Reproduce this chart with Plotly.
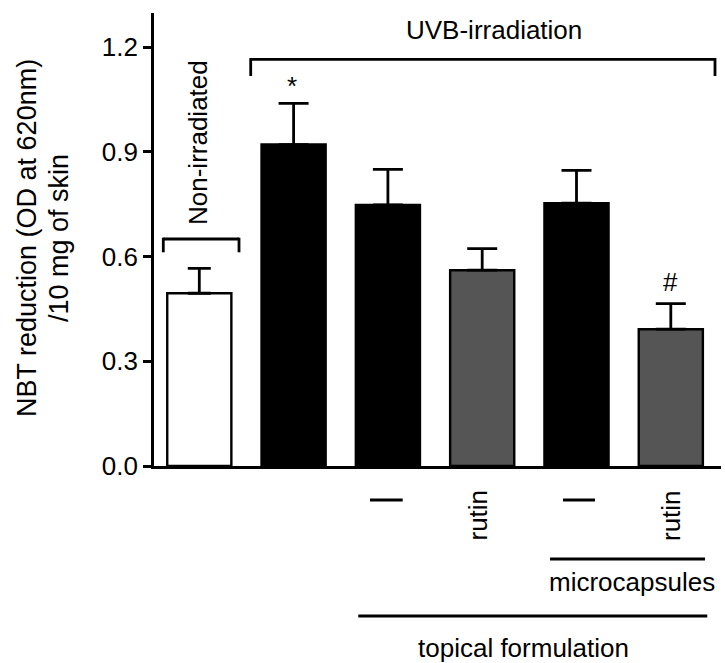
import plotly.graph_objects as go

# ---- data ----
groups = ["Non-irradiated", "UVB", "UVB topical", "UVB topical rutin", "UVB microcapsules", "UVB microcapsules rutin"]
nbt_mean = [0.495, 0.921, 0.748, 0.561, 0.753, 0.392]
nbt_sem = [0.071, 0.118, 0.102, 0.062, 0.094, 0.073]
bar_colors = ["#ffffff", "#000000", "#000000", "#555555", "#000000", "#555555"]
y_ticks = [0.0, 0.3, 0.6, 0.9, 1.2]
y_tick_labels = ["0.0", "0.3", "0.6", "0.9", "1.2"]

FONT = "Liberation Sans, Arial, Helvetica, sans-serif"
FS = 26
W, H = 725, 663
L, R, T, B = 154, 721, 13, 466

def px_x(px):
    return (px - L) / (R - L)

def px_y(py):
    return (B - py) / (B - T)

xpos = list(range(len(groups)))

fig = go.Figure()
# first bar (narrower caps)
fig.add_trace(go.Bar(
    x=xpos[:1], y=nbt_mean[:1], width=0.68,
    marker=dict(color=bar_colors[:1], line=dict(color="black", width=2.4)),
    error_y=dict(type="data", symmetric=False, array=nbt_sem[:1], arrayminus=[0],
                 color="black", thickness=2.8, width=11.5),
    showlegend=False, hoverinfo="skip"))
fig.add_trace(go.Bar(
    x=xpos[1:], y=nbt_mean[1:], width=0.68,
    marker=dict(color=bar_colors[1:], line=dict(color="black", width=2.4)),
    error_y=dict(type="data", symmetric=False, array=nbt_sem[1:], arrayminus=[0] * 5,
                 color="black", thickness=2.8, width=15),
    showlegend=False, hoverinfo="skip"))

shapes = []
annotations = []

def line(x0, y0, x1, y1, w=2.8):
    shapes.append(dict(type="line", xref="paper", yref="paper",
                       x0=px_x(x0), y0=px_y(y0), x1=px_x(x1), y1=px_y(y1),
                       line=dict(color="black", width=w)))

def text(t, x, y, angle=0, size=FS):
    annotations.append(dict(text=t, xref="paper", yref="paper", x=px_x(x), y=px_y(y),
                            xanchor="center", yanchor="middle", showarrow=False,
                            textangle=angle, font=dict(family=FONT, size=size, color="black")))

# Non-irradiated bracket
line(163.3, 239, 239, 239)
line(163.3, 237.7, 163.3, 252.3)
line(239, 237.7, 239, 252.3)
text("Non-irradiated", 197.5, 142.5, angle=-90)

# UVB bracket
line(250.7, 59.3, 715, 59.3)
line(250.7, 58, 250.7, 76)
line(715, 58, 715, 76)
text("UVB-irradiation", 494, 30)

# significance marks
text("*", 291.7, 86)
text("#", 670.7, 281.7)

# below-axis labels
line(370, 500, 402.7, 500, w=3)
line(563, 500, 595, 500, w=3)
text("rutin", 477, 515.5, angle=-90)
text("rutin", 670.5, 515.5, angle=-90)
line(550, 559, 705, 559)
text("microcapsules", 631.5, 582)
line(358.3, 616, 707.3, 616)
text("topical formulation", 523, 648)

# y-axis title (two lines)
text("NBT reduction (OD at 620nm)", 27, 238, angle=-90, size=27)
text("/10 mg of skin", 59, 238, angle=-90, size=27)

px_per_x = 94.3
x_left = (L - 199.3) / px_per_x
x_right = (R - 199.3) / px_per_x
y_top = (B - T) / 349.0

fig.update_layout(
    width=W, height=H,
    margin=dict(l=L, r=W - R, t=T, b=H - B, pad=0),
    paper_bgcolor="white", plot_bgcolor="white",
    barmode="overlay",
    shapes=shapes, annotations=annotations,
    font=dict(family=FONT, size=FS, color="black"),
    xaxis=dict(range=[x_left, x_right], showticklabels=False, ticks="",
               showline=True, linecolor="black", linewidth=2.8, showgrid=False,
               zeroline=False, fixedrange=True),
    yaxis=dict(range=[0, y_top], tickvals=y_ticks, ticktext=y_tick_labels,
               ticks="outside", ticklen=8, tickwidth=2.8, tickcolor="black",
               showline=True, linecolor="black", linewidth=2.8, showgrid=False,
               zeroline=False, tickfont=dict(family=FONT, size=FS, color="black"),
               fixedrange=True),
)

fig.write_html("out.html", config={"displayModeBar": False},
               post_script="document.body.style.margin='0';document.body.style.padding='0';document.documentElement.style.overflow='hidden';")
